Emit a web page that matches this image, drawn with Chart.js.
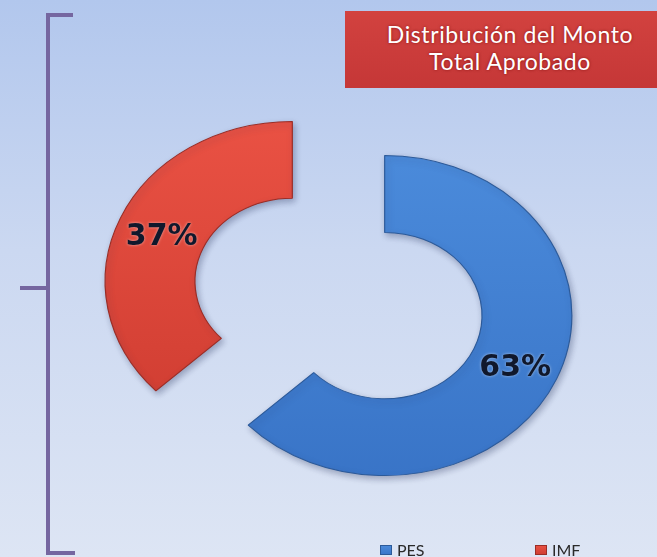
<!DOCTYPE html>
<html lang="es">
<head>
<meta charset="utf-8">
<title>Distribución del Monto Total Aprobado</title>
<script src="https://cdn.jsdelivr.net/npm/chart.js@4.4.1/dist/chart.umd.min.js"></script>
<style>
  html, body { margin: 0; padding: 0; }
  body {
    width: 657px; height: 557px; overflow: hidden;
    background: linear-gradient(to bottom, #b2c7ed 0%, #cbd8f1 45%, #dde5f4 100%);
    font-family: Lato, "Open Sans", sans-serif;
  }
  #wrap { position: relative; width: 657px; height: 557px; overflow: hidden; }
  #title-box {
    position: absolute; left: 345px; top: 11px; width: 330px; height: 77px;
    box-sizing: border-box; padding-top: 10px;
    background: linear-gradient(to bottom, #d2423f, #c53737);
    color: #fff; text-align: center;
    font-size: 23px; line-height: 27px; letter-spacing: 0.6px;
    text-shadow: 0 0 3px rgba(110, 0, 0, 0.7);
  }
</style>
</head>
<body>
<div id="wrap">
  <canvas id="chart"></canvas>
  <div id="title-box">Distribución del Monto<br>Total Aprobado</div>
</div>
<script>
// data
const categories = ["PES", "IMF"];
const shares = [63, 37];

const topColors = ["#4b8bdb", "#ea5244"];
const bottomColors = ["#3873c6", "#cc3a2f"];
const edgeColors = ["#2c5a99", "#9a2d26"];

const STRETCH_X = 1.17;  // the original is drawn as a slightly wide ellipse
const EXPLODE = 43;

function sliceFill(c) {
    const i = c.dataIndex;
    const g = c.chart.ctx.createLinearGradient(0, 130, 0, 480);
    g.addColorStop(0, topColors[i]);
    g.addColorStop(1, bottomColors[i]);
    return g;
}

// draw the arcs pulled apart and stretched sideways
const explodedArcs = {
    id: "explodedArcs",
    beforeDatasetsDraw(chart) {
        const ctx = chart.ctx;
        const arcs = chart.getDatasetMeta(0).data;
        const cx = arcs[0].x, cy = arcs[0].y;
        ctx.save();
        ctx.translate(cx, cy);
        ctx.scale(STRETCH_X, 1);
        ctx.translate(-cx, -cy);
        arcs.forEach(arc => {
            const mid = (arc.startAngle + arc.endAngle) / 2;
            ctx.save();
            ctx.shadowColor = "rgba(40, 50, 90, 0.35)";
            ctx.shadowBlur = 6;
            ctx.shadowOffsetX = 2;
            ctx.shadowOffsetY = 3;
            ctx.translate(Math.cos(mid) * EXPLODE, Math.sin(mid) * EXPLODE);
            arc.draw(ctx);
            ctx.restore();
        });
        ctx.restore();
        return false;
    },
    afterDraw(chart) {
        const ctx = chart.ctx;
        const arcs = chart.getDatasetMeta(0).data;
        const values = chart.data.datasets[0].data;

        // percentage labels
        ctx.save();
        ctx.font = "bold 30px 'DejaVu Sans', sans-serif";
        ctx.textAlign = "center";
        ctx.textBaseline = "middle";
        ctx.fillStyle = "#10182c";
        ctx.shadowColor = "rgba(255, 255, 255, 0.55)";
        ctx.shadowBlur = 3;
        arcs.forEach((arc, i) => {
            const mid = (arc.startAngle + arc.endAngle) / 2;
            const r = (arc.innerRadius + arc.outerRadius) / 2 + EXPLODE;
            const x = arc.x + Math.cos(mid) * r * STRETCH_X;
            const y = arc.y + Math.sin(mid) * r + 4;
            ctx.fillText(values[i] + "%", x, y);
        });
        ctx.restore();

        // legend
        ctx.save();
        ctx.font = "16px Lato, sans-serif";
        ctx.textBaseline = "middle";
        chart.data.labels.forEach((label, i) => {
            const x = 380 + i * 155;
            const g = ctx.createLinearGradient(0, 545, 0, 556);
            g.addColorStop(0, topColors[i]);
            g.addColorStop(1, bottomColors[i]);
            ctx.fillStyle = g;
            ctx.fillRect(x, 545, 12, 10);
            ctx.strokeStyle = edgeColors[i];
            ctx.lineWidth = 1;
            ctx.strokeRect(x + 0.5, 545.5, 11, 9);
            ctx.fillStyle = "#2a2a2a";
            ctx.fillText(label, x + 17, 551);
        });
        ctx.restore();

        // bracket on the left
        ctx.save();
        ctx.strokeStyle = "#7566a0";
        ctx.lineWidth = 4;
        ctx.lineCap = "butt";
        ctx.beginPath();
        ctx.moveTo(73, 15);
        ctx.lineTo(48, 15);
        ctx.lineTo(48, 553);
        ctx.lineTo(75, 553);
        ctx.moveTo(48, 288);
        ctx.lineTo(20, 288);
        ctx.stroke();
        ctx.restore();
    }
};

new Chart(document.getElementById("chart"), {
    type: "doughnut",
    data: {
        labels: categories,
        datasets: [{
            data: shares,
            backgroundColor: sliceFill,
            borderColor: edgeColors,
            borderWidth: 1
        }]
    },
    options: {
        responsive: true,
        maintainAspectRatio: false,
        animation: false,
        radius: 160,
        cutout: "52%",
        layout: { padding: { left: 20, right: 0, top: 40, bottom: 0 } },
        plugins: {
            legend: { display: false },
            tooltip: { enabled: false }
        }
    },
    plugins: [explodedArcs]
});
</script>
</body>
</html>
